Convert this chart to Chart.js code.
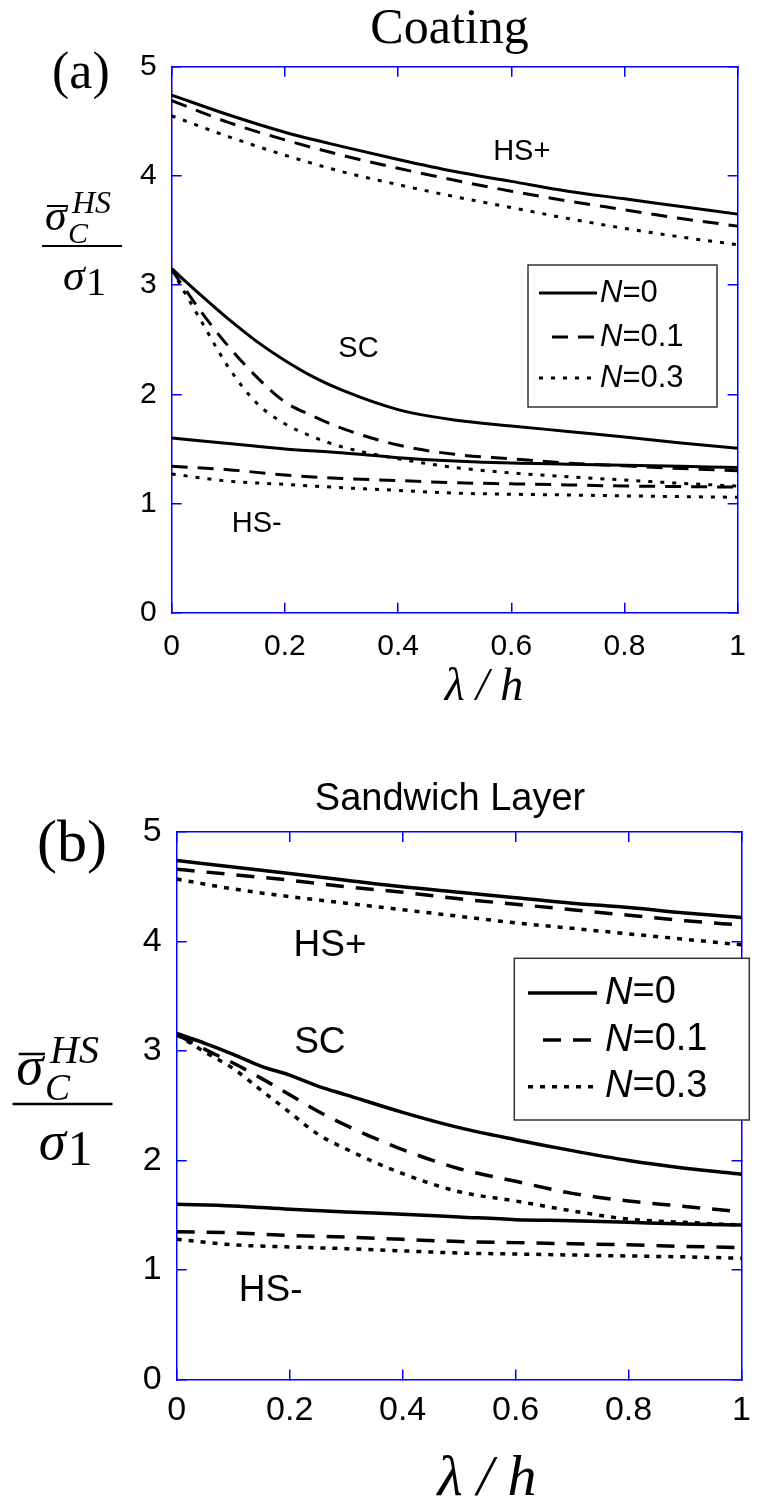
<!DOCTYPE html>
<html lang="en">
<head>
  <meta charset="UTF-8" />
  <title>Coating / Sandwich Layer</title>
  <script src="https://cdn.jsdelivr.net/npm/chart.js"></script>
  <style>
    body { margin: 0; background: #fff; }
    .panel { position: absolute; left: 0; width: 772px; }
    #wrapA { top: 0; height: 720px; }
    #wrapB { top: 720px; height: 781px; }
  </style>
</head>
<body>
  <div class="panel" id="wrapA"><canvas id="chartA"></canvas></div>
  <div class="panel" id="wrapB"><canvas id="chartB"></canvas></div>

  <script>
    // x positions (lambda / h)
    const lamSC = [0, 0.05, 0.1, 0.15, 0.2, 0.25, 0.3, 0.4, 0.5, 0.6, 0.7, 0.8, 0.9, 1.0];
    const lamHS = [0, 0.1, 0.2, 0.3, 0.4, 0.5, 0.6, 0.7, 0.8, 0.9, 1.0];

    const xTickLabels = ["0", "0.2", "0.4", "0.6", "0.8", "1"];
    const yTickLabels = ["0", "1", "2", "3", "4", "5"];
    const nValues = ["0", "0.1", "0.3"];
    const familyNames = ["HS+", "SC", "HS-"];

    // (a) Coating
    const coatHSplusN0 = [4.74, 4.56, 4.40, 4.27, 4.15, 4.04, 3.95, 3.86, 3.79, 3.72, 3.65];
    const coatHSplusN1 = [4.69, 4.49, 4.33, 4.19, 4.07, 3.96, 3.86, 3.77, 3.69, 3.61, 3.54];
    const coatHSplusN3 = [4.55, 4.36, 4.19, 4.04, 3.92, 3.81, 3.71, 3.61, 3.52, 3.44, 3.37];
    const coatSCN0 = [3.15, 2.915, 2.69, 2.485, 2.31, 2.16, 2.04, 1.86, 1.765, 1.71, 1.66, 1.61, 1.555, 1.505];
    const coatSCN1 = [3.14, 2.77, 2.44, 2.16, 1.93, 1.80, 1.69, 1.535, 1.45, 1.41, 1.37, 1.345, 1.32, 1.30];
    const coatSCN3 = [3.14, 2.69, 2.25, 1.92, 1.73, 1.61, 1.52, 1.41, 1.33, 1.28, 1.245, 1.215, 1.185, 1.16];
    const coatHSminusN0 = [1.60, 1.55, 1.50, 1.465, 1.42, 1.39, 1.37, 1.36, 1.35, 1.34, 1.33];
    const coatHSminusN1 = [1.34, 1.31, 1.26, 1.23, 1.21, 1.19, 1.18, 1.17, 1.16, 1.155, 1.15];
    const coatHSminusN3 = [1.27, 1.205, 1.175, 1.145, 1.12, 1.095, 1.085, 1.078, 1.07, 1.063, 1.057];

    // (b) Sandwich layer
    const sandHSplusN0 = [4.74, 4.68, 4.62, 4.56, 4.50, 4.45, 4.40, 4.35, 4.31, 4.26, 4.22];
    const sandHSplusN1 = [4.66, 4.61, 4.56, 4.50, 4.45, 4.39, 4.34, 4.29, 4.24, 4.19, 4.15];
    const sandHSplusN3 = [4.57, 4.48, 4.41, 4.35, 4.29, 4.23, 4.17, 4.12, 4.07, 4.02, 3.97];
    const sandSCN0 = [3.16, 3.07, 2.97, 2.86, 2.78, 2.68, 2.60, 2.44, 2.30, 2.19, 2.09, 2.00, 1.93, 1.875];
    const sandSCN1 = [3.15, 3.015, 2.89, 2.75, 2.60, 2.45, 2.32, 2.10, 1.925, 1.81, 1.70, 1.63, 1.58, 1.53];
    const sandSCN3 = [3.15, 2.99, 2.84, 2.64, 2.44, 2.24, 2.105, 1.88, 1.715, 1.63, 1.54, 1.465, 1.435, 1.41];
    const sandHSminusN0 = [1.60, 1.585, 1.555, 1.53, 1.51, 1.485, 1.46, 1.45, 1.435, 1.42, 1.41];
    const sandHSminusN1 = [1.35, 1.34, 1.315, 1.30, 1.28, 1.26, 1.25, 1.24, 1.23, 1.215, 1.205];
    const sandHSminusN3 = [1.28, 1.23, 1.21, 1.195, 1.175, 1.155, 1.146, 1.137, 1.128, 1.12, 1.107];

    const SANS = '"Liberation Sans", Arial, sans-serif';
    const SERIF = '"Liberation Serif", "Times New Roman", serif';

    function series(xs, ys, style) {
      return Object.assign({ data: xs.map((x, i) => ({ x: x, y: ys[i] })), borderColor: "#000", pointRadius: 0, fill: false }, style);
    }

    function datasetsFor(hsPlus, sc, hsMinus, width, dash, dot) {
      const styles = [
        { borderWidth: width, borderDash: [] },
        { borderWidth: width, borderDash: dash },
        { borderWidth: width, borderDash: dot }
      ];
      const out = [];
      hsPlus.forEach((ys, i) => out.push(series(lamHS, ys, styles[i])));
      sc.forEach((ys, i) => out.push(series(lamSC, ys, styles[i])));
      hsMinus.forEach((ys, i) => out.push(series(lamHS, ys, styles[i])));
      return out;
    }

    // y label: sigma-bar_C^HS over sigma_1
    function drawFraction(ctx, cx, ly, s) {
      const px = (v) => (v * s).toFixed(1) + "px ";
      ctx.fillStyle = "#000";
      ctx.textAlign = "left";
      ctx.textBaseline = "alphabetic";
      ctx.font = "italic " + px(44) + SERIF;
      ctx.fillText("σ", cx - 37 * s, ly - 16 * s);
      ctx.font = "italic " + px(32) + SERIF;
      ctx.fillText("HS", cx - 10 * s, ly - 33 * s);
      ctx.font = "italic " + px(30) + SERIF;
      ctx.fillText("C", cx - 14 * s, ly - 3 * s);
      ctx.font = "italic " + px(44) + SERIF;
      ctx.fillText("σ", cx - 19 * s, ly + 44 * s);
      ctx.font = px(40) + SERIF;
      ctx.fillText("1", cx + 4 * s, ly + 49 * s);
      ctx.strokeStyle = "#000";
      ctx.setLineDash([]);
      ctx.lineWidth = 2 * s;
      ctx.beginPath();
      ctx.moveTo(cx - 35 * s, ly - 40 * s); ctx.lineTo(cx - 14 * s, ly - 40 * s);
      ctx.moveTo(cx - 40 * s, ly); ctx.lineTo(cx + 40 * s, ly);
      ctx.stroke();
    }

    function drawLegend(ctx, chart, L) {
      ctx.setLineDash([]);
      ctx.fillStyle = "#fff";
      ctx.fillRect(L.x, L.y, L.w, L.h);
      ctx.strokeStyle = "#333";
      ctx.lineWidth = 1.5;
      ctx.strokeRect(L.x, L.y, L.w, L.h);
      nValues.forEach((n, i) => {
        const ds = chart.data.datasets[i];
        const yy = L.rows[i];
        ctx.strokeStyle = "#000";
        ctx.lineWidth = ds.borderWidth;
        ctx.setLineDash(ds.borderDash);
        ctx.beginPath();
        ctx.moveTo(L.sampleStart[i], yy);
        ctx.lineTo(L.sampleEnd, yy);
        ctx.stroke();
        ctx.setLineDash([]);
        ctx.fillStyle = "#000";
        ctx.textAlign = "left";
        ctx.textBaseline = "middle";
        ctx.font = "italic " + L.font + "px " + SANS;
        ctx.fillText("N", L.textX, yy);
        const w = ctx.measureText("N").width;
        ctx.font = L.font + "px " + SANS;
        ctx.fillText("=" + n, L.textX + w, yy);
      });
    }

    function decorPlugin(d) {
      return {
        id: "decor",
        afterDraw(chart) {
          const ctx = chart.ctx;
          const xs = chart.scales.x, ys = chart.scales.y;
          ctx.save();
          ctx.fillStyle = "#000";
          ctx.textBaseline = "alphabetic";
          ctx.textAlign = "center";
          ctx.font = d.titleFont;
          ctx.fillText(d.title, d.titleX, d.titleY);
          ctx.textAlign = "left";
          ctx.font = d.letterFont;
          ctx.fillText(d.letter, d.letterX, d.letterY);
          ctx.textAlign = "center";
          ctx.font = d.xTitleFont;
          ctx.fillText("λ / h", d.xTitleX, d.xTitleY);
          drawFraction(ctx, d.fracX, d.fracY, d.fracScale);
          ctx.fillStyle = "#000";
          ctx.textAlign = "left";
          ctx.textBaseline = "alphabetic";
          ctx.font = d.tagSize + "px " + SANS;
          familyNames.forEach((name, i) => {
            ctx.fillText(name, xs.getPixelForValue(d.tags[i][0]), ys.getPixelForValue(d.tags[i][1]));
          });
          drawLegend(ctx, chart, d.legend);
          ctx.restore();
        }
      };
    }

    function buildChart(id, cfg) {
      const grid = { drawOnChartArea: false, drawTicks: true, tickLength: -10, color: "#0000ff", lineWidth: 1.5 };
      const border = { color: "#0000ff", width: 1.5 };
      const font = { family: SANS, size: cfg.tickSize };
      return new Chart(document.getElementById(id), {
        type: "line",
        data: { datasets: cfg.datasets },
        options: {
          responsive: true,
          maintainAspectRatio: false,
          animation: false,
          layout: { padding: cfg.padding },
          elements: { line: { cubicInterpolationMode: "monotone" }, point: { radius: 0 } },
          plugins: { legend: { display: false }, tooltip: { enabled: false } },
          scales: {
            x: {
              type: "linear", position: "bottom", min: 0, max: 1,
              ticks: { stepSize: 0.2, font: font, color: "#000", padding: cfg.xPad, maxRotation: 0, callback: (v, i) => xTickLabels[i] },
              grid: grid, border: border,
              afterFit: (s) => { s.height = cfg.xAxisH; }
            },
            x2: {
              type: "linear", position: "top", min: 0, max: 1,
              ticks: { stepSize: 0.2, display: false },
              grid: grid, border: border,
              afterFit: (s) => { s.height = 0; }
            },
            y: {
              type: "linear", position: "left", min: 0, max: 5,
              ticks: { stepSize: 1, font: font, color: "#000", padding: cfg.yPad, callback: (v, i) => yTickLabels[i] },
              grid: grid, border: border,
              afterFit: (s) => { s.width = cfg.yAxisW; }
            },
            y2: {
              type: "linear", position: "right", min: 0, max: 5,
              ticks: { stepSize: 1, display: false },
              grid: grid, border: border,
              afterFit: (s) => { s.width = 0; }
            }
          }
        },
        plugins: [decorPlugin(cfg.decor)]
      });
    }

    buildChart("chartA", {
      datasets: datasetsFor(
        [coatHSplusN0, coatHSplusN1, coatHSplusN3],
        [coatSCN0, coatSCN1, coatSCN3],
        [coatHSminusN0, coatHSminusN1, coatHSminusN3],
        3, [16, 10], [4, 8]
      ),
      padding: { top: 66.7, right: 22, left: 0, bottom: 0 },
      xAxisH: 107.3, yAxisW: 171.7,
      tickSize: 30, xPad: 26, yPad: 25,
      decor: {
        title: "Coating", titleFont: "50px " + SERIF, titleX: 449.5, titleY: 43,
        letter: "(a)", letterFont: "52px " + SERIF, letterX: 52, letterY: 88,
        xTitleFont: "italic 46px " + SERIF, xTitleX: 484, xTitleY: 700,
        fracX: 82, fracY: 246, fracScale: 1,
        tagSize: 29,
        tags: [[0.568, 4.145], [0.2945, 2.342], [0.106, 0.739]],
        legend: { x: 528, y: 265, w: 189, h: 142, rows: [293, 337, 378], sampleStart: [539, 552, 539], sampleEnd: 597, textX: 600, font: 31 }
      }
    });

    buildChart("chartB", {
      datasets: datasetsFor(
        [sandHSplusN0, sandHSplusN1, sandHSplusN3],
        [sandSCN0, sandSCN1, sandSCN3],
        [sandHSminusN0, sandHSminusN1, sandHSminusN3],
        3.5, [18, 12], [5, 7]
      ),
      padding: { top: 112, right: 10, left: 0, bottom: 0 },
      xAxisH: 121.5, yAxisW: 176.7,
      tickSize: 34, xPad: 21, yPad: 25,
      decor: {
        title: "Sandwich Layer", titleFont: "38px " + SANS, titleX: 450, titleY: 90,
        letter: "(b)", letterFont: "60px " + SERIF, letterX: 37, letterY: 141,
        xTitleFont: "italic 58px " + SERIF, xTitleX: 487, xTitleY: 775,
        fracX: 62.5, fracY: 384, fracScale: 1.25,
        tagSize: 37,
        tags: [[0.207, 3.868], [0.208, 2.986], [0.11, 0.717]],
        legend: { x: 514.3, y: 238.3, w: 235, h: 161.7, rows: [273, 320, 366.7], sampleStart: [528, 543, 528], sampleEnd: 597, textX: 605, font: 38 }
      }
    });
  </script>
</body>
</html>
